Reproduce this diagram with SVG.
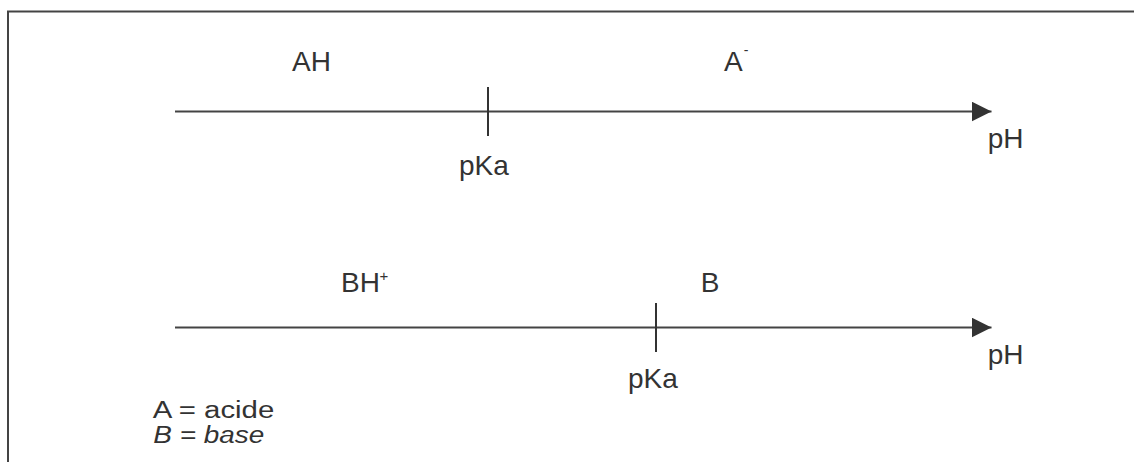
<svg xmlns="http://www.w3.org/2000/svg" width="1134" height="462" viewBox="0 0 1134 462">
<style>
  .t { font-family: "Liberation Sans", Arial, sans-serif; font-size: 28px; fill: #333; }
  .sup { font-family: "Liberation Sans", Arial, sans-serif; fill: #333; }
  .leg { font-family: "Liberation Sans", Arial, sans-serif; font-size: 23px; fill: #333; }
  .ax { stroke: #444; stroke-width: 2; fill: none; }
  .tick { stroke: #333; stroke-width: 2; }
  .frame { stroke: #444; stroke-width: 2; fill: none; }
</style>
<defs>
  <marker id="arr" markerWidth="20" markerHeight="20" refX="20" refY="10" orient="auto" markerUnits="userSpaceOnUse">
    <path d="M0,0 L20,10 L0,20 Z" fill="#333"/>
  </marker>
</defs>
<rect width="1134" height="462" fill="#fff"/>
<path class="frame" d="M8,462 L8,11.5 L1134,11.5"/>
<g id="connectors">
  <line class="ax" x1="175" y1="111.5" x2="991.5" y2="111.5" marker-end="url(#arr)"/>
  <line class="ax" x1="175" y1="327.5" x2="991.5" y2="327.5" marker-end="url(#arr)"/>
</g>
<g id="axis-acid">
  <line class="tick" x1="488" y1="87" x2="488" y2="136"/>
  <text class="t" x="292" y="70.5">AH</text>
  <text class="t" x="724" y="70.5">A</text>
  <text class="sup" x="743.7" y="54.6" font-size="14">-</text>
  <text class="t" x="459" y="175">pKa</text>
  <text class="t" x="987.7" y="148.3">pH</text>
</g>
<g id="axis-base">
  <line class="tick" x1="656" y1="303" x2="656" y2="352"/>
  <text class="t" x="341" y="292.3">BH</text>
  <text class="sup" x="379.5" y="281" font-size="15">+</text>
  <text class="t" x="700.7" y="292.3">B</text>
  <text class="t" x="628" y="388">pKa</text>
  <text class="t" x="987.7" y="364">pH</text>
</g>
<g id="legend">
  <text class="leg" x="152.7" y="418.3" textLength="121.6" lengthAdjust="spacingAndGlyphs">A = acide</text>
  <text class="leg" x="153.3" y="442.7" font-style="italic" textLength="111" lengthAdjust="spacingAndGlyphs">B = base</text>
</g>
</svg>
